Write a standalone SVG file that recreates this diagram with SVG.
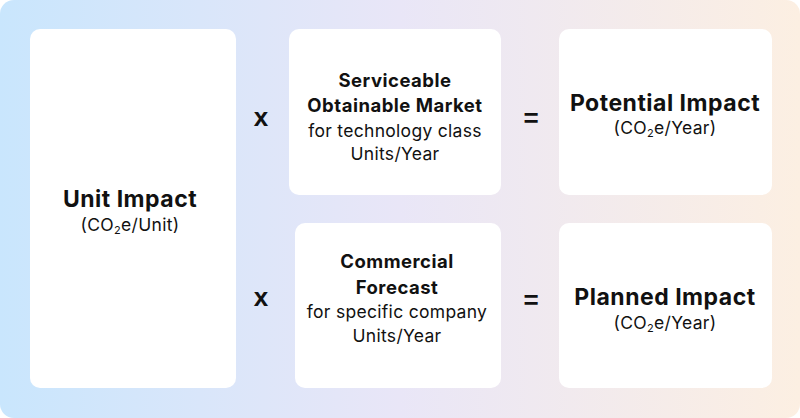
<svg xmlns="http://www.w3.org/2000/svg" width="800" height="418" viewBox="0 0 800 418">
<defs>
<linearGradient id="bg" x1="0" y1="0" x2="1" y2="0">
<stop offset="0" stop-color="#c9e6fd"/>
<stop offset="0.5" stop-color="#e9e6f7"/>
<stop offset="1" stop-color="#fcefe2"/>
</linearGradient>
<style>
.box{fill:#ffffff}
text{font-family:Inter,"Open Sans",sans-serif;fill:#111111;text-anchor:middle}
.b{font-weight:700}
.t{font-size:23px;letter-spacing:0.5px}
.s{font-size:18.5px;letter-spacing:0.5px}
.r{font-size:17.5px;font-weight:400;letter-spacing:0.3px}
.op{font-family:"Liberation Sans",Arial,sans-serif;font-size:26px;font-weight:700}
.sub{font-size:11px}
</style>
</defs>
<rect x="0" y="0" width="800" height="418" rx="14" fill="url(#bg)"/>
<g id="unit-impact">
<rect class="box" x="30" y="29" width="206" height="359" rx="10"/>
<text class="b t" x="130" y="207">Unit Impact</text>
<text class="r" x="130" y="231">(CO<tspan class="sub" dy="3">2</tspan><tspan dy="-3">e/Unit)</tspan></text>
</g>
<g id="som">
<rect class="box" x="289" y="29" width="212" height="166" rx="10"/>
<text class="b s" x="395" y="87">Serviceable</text>
<text class="b s" x="395" y="112">Obtainable Market</text>
<text class="r" x="395" y="137">for technology class</text>
<text class="r" x="395" y="160">Units/Year</text>
</g>
<g id="potential-impact">
<rect class="box" x="559" y="29" width="213" height="166" rx="10"/>
<text class="b t" x="665" y="111">Potential Impact</text>
<text class="r" x="665" y="134">(CO<tspan class="sub" dy="3">2</tspan><tspan dy="-3">e/Year)</tspan></text>
</g>
<g id="commercial-forecast">
<rect class="box" x="295" y="223" width="206" height="165" rx="10"/>
<text class="b s" x="397" y="268">Commercial</text>
<text class="b s" x="397" y="294">Forecast</text>
<text class="r" x="397" y="318">for specific company</text>
<text class="r" x="397" y="342">Units/Year</text>
</g>
<g id="planned-impact">
<rect class="box" x="559" y="223" width="213" height="165" rx="10"/>
<text class="b t" x="665" y="305">Planned Impact</text>
<text class="r" x="665" y="329">(CO<tspan class="sub" dy="3">2</tspan><tspan dy="-3">e/Year)</tspan></text>
</g>
<g id="operators">
<text class="op" x="261" y="126">x</text>
<text class="op" x="531" y="127">=</text>
<text class="op" x="261" y="306">x</text>
<text class="op" x="531" y="309">=</text>
</g>
</svg>
